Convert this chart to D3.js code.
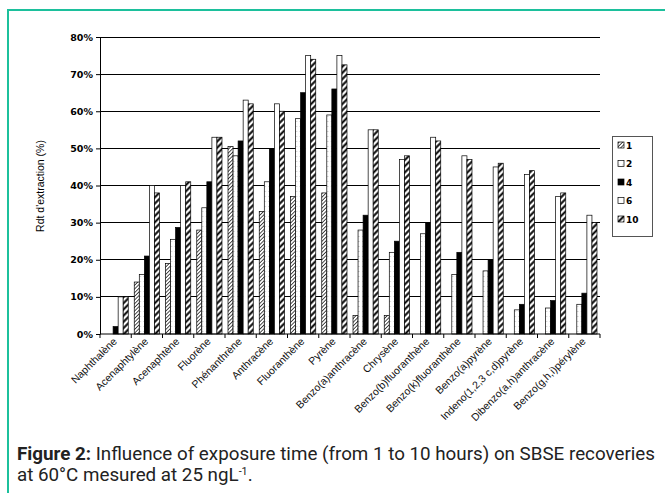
<!DOCTYPE html>
<html><head><meta charset="utf-8">
<script src="https://cdn.jsdelivr.net/npm/d3@7"></script>
<style>body{margin:0;background:#fff}svg{display:block}</style>
</head><body>
<svg id="c" width="665" height="493"></svg>
<script>
const categories = ["Naphthalène","Acenaphtylène","Acenaphtène","Fluorène","Phénanthrène","Anthracène","Fluoranthène","Pyrène","Benzo(a)anthracène","Chrysène","Benzo(b)fluoranthène","Benzo(k)fluoranthène","Benzo(a)pyrène","Indeno(1,2,3 c,d)pyrène","Dibenzo(a,h)anthracène","Benzo(g,h,i)pérylène"];
const seriesNames = ["1","2","4","6","10"];
const s1  = [0,14,19,28,50.5,33,37,38,5,5,0,0,0,0,0,0];
const s2  = [0,16,25.5,34,48,41,58,59,28,22,27,16,17,6.5,7,8];
const s4  = [2,21,28.7,41,52,50,65,66,32,25,30,22,20,8,9,11];
const s6  = [10,40,40,53,63,62,75,75,55,47,53,48,45,43,37,32];
const s10 = [10,38,41,53,62,60,74,72.5,55,48,52,47,46,44,38,30];
const yTicks = [0,10,20,30,40,50,60,70,80];
const seriesValues = [s1,s2,s4,s6,s10];

const svg = d3.select("#c");
const defs = svg.append("defs");
function hatch(id, size, sw){
  const p = defs.append("pattern").attr("id",id).attr("patternUnits","userSpaceOnUse")
    .attr("width",size).attr("height",size).attr("patternTransform","rotate(45)");
  p.append("rect").attr("width",size).attr("height",size).attr("fill","#fff");
  p.append("line").attr("x1",size/2).attr("x2",size/2).attr("y1",0).attr("y2",size)
    .attr("stroke","#000").attr("stroke-width",sw);
}
hatch("p1",2.6,0.7);
hatch("p10",4.4,2.0);
const pd = defs.append("pattern").attr("id","p2").attr("patternUnits","userSpaceOnUse").attr("width",4).attr("height",5);
pd.append("rect").attr("width",4).attr("height",5).attr("fill","#fff");
pd.append("rect").attr("x",0.5).attr("y",1).attr("width",0.8).attr("height",0.8).attr("fill","#888");
const fills = ["url(#p1)","url(#p2)","#000","#fff","url(#p10)"];

// frame
svg.append("path").attr("d","M8,493V10H665").attr("fill","none").attr("stroke","#1cc09c").attr("stroke-width",2);

const x = d3.scaleBand().domain(categories).range([100,600]).padding(0);
const xs = d3.scaleBand().domain(seriesNames).range([3, x.bandwidth()-3]).padding(0);
const y = d3.scaleLinear().domain([0,80]).range([334,37]);

// gridlines
svg.append("g").selectAll("line").data(yTicks.filter(d=>d>0)).join("line")
  .attr("x1",100).attr("x2",600).attr("y1",d=>y(d)).attr("y2",d=>y(d))
  .attr("stroke","#000").attr("stroke-width",1).attr("shape-rendering","crispEdges");

// bars
const groups = svg.append("g").selectAll("g").data(categories).join("g")
  .attr("transform",c=>`translate(${x(c)},0)`);
groups.selectAll("rect").data((c,i)=>seriesNames.map((s,k)=>({s,k,v:seriesValues[k][i]})).filter(d=>d.v>0)).join("rect")
  .attr("x",d=>xs(d.s)).attr("width",xs.bandwidth())
  .attr("y",d=>y(d.v)).attr("height",d=>y(0)-y(d.v))
  .attr("fill",d=>fills[d.k]).attr("stroke","#000").attr("stroke-width",0.7);

// y axis
const yAxis = d3.axisLeft(y).tickValues(yTicks).tickFormat(d=>d+"%").tickSize(4).tickSizeOuter(0);
const ya = svg.append("g").attr("transform","translate(100,0)").call(yAxis);
ya.select(".domain").attr("stroke","#000");
ya.selectAll("text").attr("font-family","DejaVu Sans").attr("font-weight","bold").attr("font-size","9.5px").attr("fill","#000").attr("x",-7);

// x axis
const xa = svg.append("g").attr("transform","translate(0,334)");
xa.append("line").attr("x1",100).attr("x2",600).attr("stroke","#000");
xa.selectAll("line.t").data(d3.range(categories.length+1)).join("line").attr("class","t")
  .attr("x1",i=>100+i*x.bandwidth()).attr("x2",i=>100+i*x.bandwidth()).attr("y1",0).attr("y2",4).attr("stroke","#000");
xa.selectAll("text").data(categories).join("text")
  .attr("transform",c=>`translate(${x(c)+x.bandwidth()/2+2},8) rotate(-45)`)
  .attr("text-anchor","end").attr("font-family","Liberation Sans, Arial, sans-serif").attr("font-size","10.5px").attr("fill","#111")
  .text(c=>c);

// y title
svg.append("text").attr("transform","translate(44,186) rotate(-90)").attr("text-anchor","middle")
  .attr("font-family","Liberation Sans, Arial, sans-serif").attr("font-size","10.5px").attr("fill","#000")
  .text("Rdt d'extraction (%)");

// legend
const lg = svg.append("g");
lg.append("rect").attr("x",612.5).attr("y",136.5).attr("width",40).attr("height",100).attr("fill","#fff").attr("stroke","#555").attr("stroke-width",1);
const li = lg.selectAll("g").data(seriesNames).join("g").attr("transform",(d,i)=>`translate(618,${145+i*18.5})`);
li.append("rect").attr("x",0).attr("y",-3).attr("width",6).attr("height",6).attr("fill",(d,i)=>fills[i]).attr("stroke","#000").attr("stroke-width",0.7);
li.append("text").attr("x",8).attr("y",3.5).attr("font-family","DejaVu Sans").attr("font-weight","bold").attr("font-size","9px").text(d=>d);

// caption
const capFont = "'Liberation Sans Narrow', 'Roboto', 'Liberation Sans', sans-serif";
const t1 = svg.append("text").attr("x",17).attr("y",460).attr("font-family",capFont).attr("font-size","17.5px").attr("fill","#222");
t1.append("tspan").attr("font-weight","bold").text("Figure 2:");
t1.append("tspan").text(" Influence of exposure time (from 1 to 10 hours) on SBSE recoveries");
const n1 = t1.node().getComputedTextLength();
const ratio = 638/n1;
t1.attr("textLength",638).attr("lengthAdjust","spacingAndGlyphs");
const t2 = svg.append("text").attr("x",17).attr("y",481).attr("font-family",capFont).attr("font-size","17.5px").attr("fill","#222");
t2.append("tspan").text("at 60°C mesured at 25 ngL");
t2.append("tspan").attr("font-size","10px").attr("dy",-6).text("-1");
t2.append("tspan").attr("dy",6).text(".");
const n2 = t2.node().getComputedTextLength();
t2.attr("textLength",n2*ratio).attr("lengthAdjust","spacingAndGlyphs");
</script>
</body></html>
